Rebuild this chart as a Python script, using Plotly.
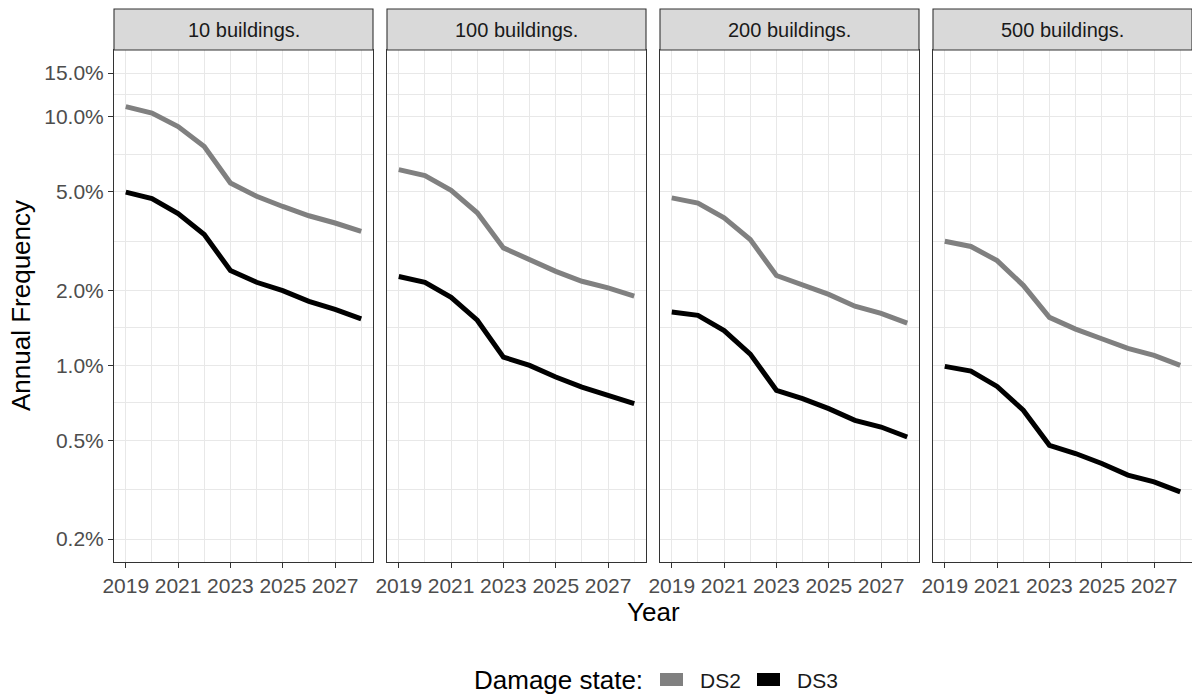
import plotly.graph_objects as go
from plotly.subplots import make_subplots

# ---- data (annual frequency, percent) ----
years = [2019, 2020, 2021, 2022, 2023, 2024, 2025, 2026, 2027, 2028]
panels = ["10 buildings.", "100 buildings.", "200 buildings.", "500 buildings."]
series_names = ["DS2", "DS3"]

ds2_10 = [11.0, 10.35, 9.14, 7.60, 5.42, 4.79, 4.36, 4.00, 3.74, 3.46]
ds3_10 = [4.98, 4.69, 4.08, 3.36, 2.41, 2.16, 2.00, 1.81, 1.68, 1.54]
ds2_100 = [6.13, 5.80, 5.06, 4.11, 2.97, 2.67, 2.39, 2.18, 2.05, 1.90]
ds3_100 = [2.28, 2.16, 1.88, 1.52, 1.08, 1.00, 0.898, 0.818, 0.758, 0.702]
ds2_200 = [4.72, 4.50, 3.92, 3.21, 2.30, 2.11, 1.93, 1.73, 1.62, 1.48]
ds3_200 = [1.64, 1.59, 1.38, 1.11, 0.794, 0.735, 0.670, 0.601, 0.565, 0.515]
ds2_500 = [3.16, 3.01, 2.64, 2.10, 1.56, 1.40, 1.28, 1.17, 1.097, 1.00]
ds3_500 = [0.991, 0.949, 0.823, 0.660, 0.477, 0.442, 0.403, 0.362, 0.340, 0.310]

x_tickvals = [2019, 2021, 2023, 2025, 2027]
x_minorvals = [2020, 2022, 2024, 2026, 2028]
y_tickvals_pct = [0.2, 0.5, 1.0, 2.0, 5.0, 10.0, 15.0]
y_ticktext = ["0.2%", "0.5%", "1.0%", "2.0%", "5.0%", "10.0%", "15.0%"]

panel_data = [(ds2_10, ds3_10), (ds2_100, ds3_100), (ds2_200, ds3_200), (ds2_500, ds3_500)]

# ---- styling ----
FONT = "Liberation Sans, Arial, sans-serif"
colors = {"DS2": "#808080", "DS3": "#000000"}
GRID = "#E8E8E8"
BORDER = "#333333"
TICKTXT = "#4D4D4D"

W, H = 1192, 695
L, R, T, B = 114, 0, 50, 133
PW = W - L - R
PH = H - T - B

def px_x(p):
    return (p - L) / PW

def px_y(p):
    return (H - B - p) / PH

fig = make_subplots(rows=1, cols=4, shared_yaxes=True,
                    horizontal_spacing=14 / PW)

for i, (d2, d3) in enumerate(panel_data):
    for name, vals in zip(series_names, (d2, d3)):
        fig.add_trace(go.Scatter(
            x=years, y=[v / 100 for v in vals], mode="lines", name=name,
            line=dict(color=colors[name], width=5),
            showlegend=False,
        ), row=1, col=i + 1)

# y minor breaks at log-midpoints between majors
y_minor = []
for a, b in zip(y_tickvals_pct[:-1], y_tickvals_pct[1:]):
    y_minor.append((a * b) ** 0.5 / 100)

for i in range(4):
    fig.update_xaxes(
        range=[2018.55, 2028.45], tickmode="array", tickvals=x_tickvals,
        ticks="outside", ticklen=5, tickwidth=1.1, tickcolor=BORDER,
        tickfont=dict(family=FONT, size=21, color=TICKTXT),
        showgrid=True, gridcolor=GRID, gridwidth=1.2,
        minor=dict(tickmode="array", tickvals=x_minorvals, showgrid=True,
                   gridcolor=GRID, gridwidth=0.7, ticks=""),
        showline=True, linecolor=BORDER, linewidth=1.1, mirror=True,
        zeroline=False, row=1, col=i + 1)
    fig.update_yaxes(
        type="log", range=[-2.791, -0.731], tickmode="array",
        tickvals=[v / 100 for v in y_tickvals_pct], ticktext=y_ticktext,
        ticks="outside" if i == 0 else "", ticklen=5, tickwidth=1.1,
        tickcolor=BORDER, showticklabels=(i == 0),
        tickfont=dict(family=FONT, size=21, color=TICKTXT),
        showgrid=True, gridcolor=GRID, gridwidth=1.2,
        minor=dict(tickmode="array", tickvals=y_minor, showgrid=True,
                   gridcolor=GRID, gridwidth=0.7, ticks=""),
        showline=True, linecolor=BORDER, linewidth=1.1, mirror=True,
        zeroline=False, row=1, col=i + 1)

shapes = []
annotations = []
strip_top = 1 + 41 / PH
for i, label in enumerate(panels):
    xr = "x domain" if i == 0 else f"x{i + 1} domain"
    shapes.append(dict(type="rect", xref=xr, yref="paper", x0=0, x1=1,
                       y0=1, y1=strip_top, fillcolor="#D9D9D9",
                       line=dict(color=BORDER, width=1.1), layer="above"))
    annotations.append(dict(text=label, xref=xr, yref="paper", x=0.5,
                            y=(1 + strip_top) / 2, showarrow=False,
                            xanchor="center", yanchor="middle",
                            font=dict(family=FONT, size=20, color="#1A1A1A")))

# axis titles
annotations.append(dict(text="Annual Frequency", xref="paper", yref="paper",
                        x=px_x(21), y=0.5, textangle=-90, showarrow=False,
                        xanchor="center", yanchor="middle",
                        font=dict(family=FONT, size=26, color="#000000")))
annotations.append(dict(text="Year", xref="paper", yref="paper",
                        x=0.5, y=px_y(612), showarrow=False,
                        xanchor="center", yanchor="middle",
                        font=dict(family=FONT, size=26, color="#000000")))

# legend (drawn)
annotations.append(dict(text="Damage state:", xref="paper", yref="paper",
                        x=px_x(645), y=px_y(680), showarrow=False,
                        xanchor="right", yanchor="middle",
                        font=dict(family=FONT, size=26, color="#000000")))
legend_keys = [("DS2", 660, 700), ("DS3", 757, 797)]
for name, kx, tx in legend_keys:
    shapes.append(dict(type="rect", xref="paper", yref="paper",
                       x0=px_x(kx), x1=px_x(kx + 23), y0=px_y(686), y1=px_y(673),
                       fillcolor=colors[name], line=dict(width=0)))
    annotations.append(dict(text=name, xref="paper", yref="paper",
                            x=px_x(tx - 2), y=px_y(680), showarrow=False,
                            xanchor="left", yanchor="middle",
                            font=dict(family=FONT, size=21, color="#1A1A1A")))

fig.update_layout(
    width=W, height=H,
    margin=dict(l=L, r=R, t=T, b=B, pad=0),
    paper_bgcolor="white", plot_bgcolor="white",
    shapes=shapes, annotations=annotations,
    showlegend=False,
    font=dict(family=FONT),
)

fig.write_html(
    "out.html",
    config={"displayModeBar": False},
    post_script="document.body.style.margin='0';document.body.style.padding='0';document.body.style.overflow='hidden';",
)
